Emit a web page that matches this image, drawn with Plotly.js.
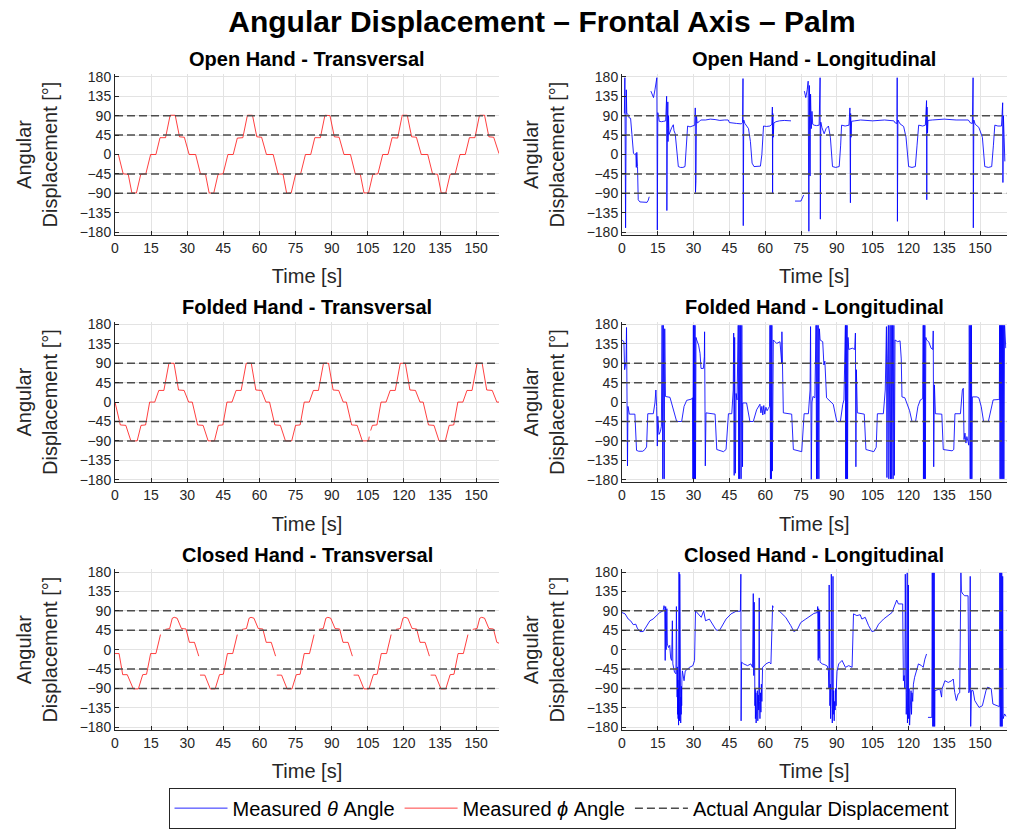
<!DOCTYPE html>
<html>
<head>
<meta charset="utf-8">
<script src="https://cdn.plot.ly/plotly-3.0.1.min.js"></script>
<style>
  html, body { margin: 0; padding: 0; background: #ffffff; }
  #chart { width: 1011px; height: 829px; }
</style>
</head>
<body>
<div id="chart"></div>
<script>
// ---------------- DATA ----------------
const mainTitle = "Angular Displacement – Frontal Axis – Palm";
const panelTitles = [
  "Open Hand - Transversal", "Open Hand - Longitudinal",
  "Folded Hand - Transversal", "Folded Hand - Longitudinal",
  "Closed Hand - Transversal", "Closed Hand - Longitudinal"
];
const xTickVals = [0, 15, 30, 45, 60, 75, 90, 105, 120, 135, 150];
const yTickVals = [-180, -135, -90, -45, 0, 45, 90, 135, 180];
const refLevels = [90, 45, -45, -90];
const seriesNames = ["Measured <i>θ</i> Angle", "Measured <i>ϕ</i> Angle", "Actual Angular Displacement"];

// Open Hand - Transversal (phi)
const tOpenTrans = [0,1.4,3.4,5.5,7.0,8.9,10.7,12.8,14.8,17.0,18.7,21.0,22.9,25.0,26.8,28.8,30.8,
  33.5,35.5,37.6,39.1,41.0,42.8,44.9,46.9,49.1,50.8,53.1,55.0,57.1,58.9,60.9,62.9,
  65.7,67.7,69.8,71.3,73.2,75.0,77.1,79.1,81.3,83.0,85.3,87.2,89.3,91.1,93.1,95.1,
  97.8,99.8,101.9,103.4,105.3,107.1,109.2,111.2,113.4,115.1,117.4,119.3,121.4,123.2,125.2,127.2,
  129.9,131.9,134.0,135.5,137.4,139.2,141.3,143.3,145.5,147.2,149.5,151.4,153.5,155.3,157.3,159.5];
const vOpenTrans = [0,0,-45,-46,-89,-89,-46,-45,0,0,39,39,91,91,41,40,0,
  0,-45,-46,-89,-90,-46,-45,0,0,38,39,91,91,41,40,0,
  0,-45,-46,-90,-89,-46,-45,0,0,39,39,91,90,41,40,0,
  0,-45,-46,-89,-89,-46,-45,0,0,39,38,91,91,41,40,0,
  0,-45,-46,-89,-89,-46,-45,0,0,39,39,91,91,41,40,2];

// Folded Hand - Transversal (phi)
const tFoldTrans = [0,2.2,4.5,6.6,9.2,10.8,12.7,14.4,16.5,18.2,20.3,22.4,24.5,26.4,28.7,30.6,
  32.1,34.3,36.6,38.7,41.3,42.9,44.8,46.5,48.6,50.3,52.4,54.5,56.6,58.5,60.8,62.7,
  64.2,66.4,68.7,70.8,73.4,75.0,76.9,78.6,80.7,82.4,84.5,86.6,88.7,90.6,92.9,94.8,
  96.1,98.3,100.6,102.7,105.3,105.6,null,106.2,106.9,108.8,110.5,112.6,114.3,116.4,118.5,120.6,122.5,124.8,126.7,
  128.0,130.2,132.5,134.6,137.2,138.8,140.7,142.4,144.5,146.2,148.3,150.4,152.5,154.4,156.7,158.6,159.5];
const vFoldTrans = [0,-53,-54,-90,-90,-54,-53,0,0,27,27,90,90,28,27,0,
  0,-53,-54,-90,-90,-54,-53,0,0,27,27,90,90,28,27,0,
  0,-53,-54,-90,-90,-54,-53,0,0,27,27,90,90,28,27,0,
  0,-53,-54,-90,-90,-80,null,-66,-54,-53,0,0,27,27,90,90,28,27,0,
  0,-53,-54,-90,-90,-54,-53,0,0,27,27,90,90,28,27,0,0];

// Closed Hand - Transversal (phi)
const tClosedTrans = [0,1.7,3.2,5.1,7.6,9.7,11.5,13.1,14.8,17.0,18.9,null,
  20.9,22.7,23.8,24.6,25.8,27.6,29.5,30.9,33.0,34.8,null,
  35.3,37.3,39.6,41.6,43.4,45.0,46.7,48.9,50.8,null,
  52.8,54.6,55.7,56.5,57.7,59.5,61.4,62.8,64.9,66.7,null,
  67.2,69.2,71.5,73.5,75.3,76.9,78.6,80.8,82.7,null,
  84.7,86.5,87.6,88.4,89.6,91.4,93.3,94.7,96.8,98.6,null,
  99.1,101.1,103.4,105.5,107.3,108.9,110.6,112.8,114.7,null,
  116.7,118.5,119.6,120.4,121.6,123.4,125.3,126.7,128.8,130.6,null,
  131.1,133.1,135.4,137.4,139.2,140.8,142.5,144.7,146.6,null,
  148.6,150.4,151.5,152.3,153.5,155.3,157.2,158.6,159.5];
const vClosedTrans = [-9,-9,-58,-58,-91,-91,-58,-57,-9,-9,35,null,
  47,49,73,75,73,49,48,17,17,-15,null,
  -59,-59,-91,-91,-58,-57,-9,-9,35,null,
  47,49,73,75,73,49,48,17,17,-15,null,
  -59,-59,-91,-91,-58,-57,-9,-9,35,null,
  47,49,73,75,73,49,48,17,17,-15,null,
  -59,-59,-91,-91,-58,-57,-9,-9,35,null,
  47,49,73,75,73,49,48,17,17,-15,null,
  -59,-59,-91,-91,-58,-57,-9,-9,35,null,
  47,49,73,75,73,49,48,17,15];

// Open Hand - Longitudinal (theta)
const tOpenLong = [1.0,1.2,1.5,1.8,2.0,2.6,3.0,3.6,4.2,4.8,5.3,5.8,6.0,6.2,6.5,6.8,7.5,9.0,10.5,11.0,11.4,null,
  12.1,12.6,13.2,13.8,14.3,14.6,14.8,15.0,15.3,15.6,16.5,17.5,18.3,18.7,18.8,18.9,19.0,19.2,19.3,19.5,19.7,20.2,20.8,21.5,21.8,22.3,23.0,23.6,24.5,25.5,26.4,27.0,27.5,28.5,29.5,30.5,30.7,30.8,30.9,31.0,31.2,31.5,32.3,33.0,35.0,37.0,39.0,41.0,43.0,44.5,45.0,46.0,48.0,50.0,50.5,50.7,50.8,51.0,51.5,52.0,53.0,53.8,54.5,55.3,57.0,58.0,58.6,59.3,60.5,62.0,62.8,63.0,63.1,63.2,63.4,63.6,64.5,66.0,68.0,70.8,null,
  72.5,75.0,76.1,null,
  76.4,77.0,77.6,78.0,78.3,78.5,78.8,79.0,79.3,79.6,79.9,80.5,81.5,82.6,83.0,83.1,83.3,83.8,84.7,85.5,86.5,87.3,88.2,89.5,91.0,91.6,92.0,93.5,95.1,95.5,95.7,95.8,96.0,96.2,97.5,100.0,105.0,110.0,113.9,114.5,115.2,115.3,115.4,115.6,116.5,118.0,119.0,120.1,121.5,122.9,123.6,124.3,126.0,127.1,127.6,127.7,127.8,128.0,128.2,130.0,135.0,140.0,145.1,146.0,146.8,147.1,147.2,147.4,148.0,149.5,151.0,152.0,153.5,154.9,155.6,156.2,157.5,159.0,159.5,159.6,159.8,160.1,160.4];
const vOpenLong = [95,178,-170,150,96,92,85,84,40,3,0,2,-30,5,-28,-105,-110,-110,-111,-106,-98,null,
  147,140,132,150,172,178,-175,97,90,77,76,77,78,135,-130,100,60,122,30,90,46,55,62,69,55,48,5,-28,-30,-30,-28,20,66,64,66,68,108,-88,100,-60,90,73,76,80,80,82,81,79,80,80,74,73,72,71,74,176,-165,80,72,68,60,30,-20,-28,-28,-27,0,66,65,66,70,110,-90,95,40,73,76,78,79,78,null,
  -108,-108,-94,null,
  147,132,150,170,-178,160,-50,140,60,100,70,68,67,68,178,-150,75,62,48,60,66,40,-28,-30,-28,20,68,66,68,108,-112,95,40,77,78,80,78,80,78,73,72,178,-155,80,71,65,40,-28,-30,-28,20,68,66,68,125,-105,110,50,79,80,82,80,80,73,72,178,-170,80,70,63,40,-28,-30,-28,20,68,66,66,120,-65,90,40,-16];

// Folded Hand - Longitudinal (theta)
const tFoldLong = [0,0.8,1.1,1.4,1.7,1.9,2.1,2.3,2.5,2.8,3.1,5.4,6.1,7.0,8.7,9.6,10.3,10.8,13.1,13.8,14.2,14.5,14.8,15.0,15.5,16.1,16.5,16.8,16.9,17.0,17.1,17.3,17.4,17.6,17.7,17.9,18.1,18.2,20.1,20.8,21.8,22.9,25.0,26.0,27.1,29.2,29.5,29.6,29.7,29.9,30.0,30.2,30.4,30.6,30.8,31.0,
  31.3,32.1,32.7,33.1,34.1,34.5,34.6,34.9,35.2,39.0,39.7,42.5,43.6,44.6,46.0,46.6,46.8,47.0,47.2,47.5,47.8,48.2,48.7,48.9,49.1,49.3,49.6,49.9,50.2,50.5,50.6,52.2,53.6,55.0,56.4,57.8,58.2,58.6,59.0,59.4,59.8,60.3,60.8,61.3,61.8,62.0,62.2,62.4,62.6,62.8,63.0,
  63.4,64.8,66.2,66.9,67.0,67.2,67.6,71.1,71.8,75.3,76.3,78.1,78.8,79.0,79.3,79.6,80.0,80.8,81.3,81.5,81.7,82.0,82.2,82.5,82.7,83.0,84.1,84.6,85.0,85.7,87.0,88.5,90.0,91.5,92.5,93.0,93.6,93.7,93.9,94.1,94.3,94.5,94.7,
  95.0,96.5,97.5,97.8,98.0,98.2,98.6,101.5,102.2,105.5,106.5,107.0,109.5,110.3,110.8,111.0,111.3,111.6,111.8,112.0,112.3,112.5,112.8,113.0,113.3,113.6,113.9,114.1,114.4,115.5,116.5,117.0,117.3,118.5,119.5,120.5,121.5,123.0,124.0,125.0,126.0,126.2,126.3,126.5,126.7,126.9,127.1,127.3,
  127.6,128.5,129.5,130.2,130.4,130.6,130.9,131.3,134.0,134.6,138.3,139.0,139.5,141.8,142.6,143.0,143.3,143.7,144.1,144.5,144.9,145.3,145.5,145.6,145.8,145.9,146.1,146.2,146.4,146.6,146.8,148.7,149.5,150.5,151.5,153.5,154.5,155.5,157.8,158.1,158.2,158.4,158.6,158.8,159.0,159.2,159.4,159.6,159.8,160.0,160.3,160.8];
const vFoldLong = [144,140,75,86,94,173,-2,-148,-10,-25,-28,-28,-112,-114,-114,-110,-104,-27,-27,-2,28,-10,-102,-33,-75,-68,-56,178,-178,178,-178,178,-178,178,-178,170,15,13,11,-2,-25,-45,-45,-10,4,7,10,178,-178,178,-178,178,-178,178,-178,150,
  144,132,113,78,78,105,163,-148,-25,-28,-110,-115,-110,-27,-27,28,160,-170,150,-165,20,5,178,-178,178,-178,178,-178,178,-150,-2,-2,-45,-45,-18,-5,-25,-10,-30,-8,-28,-12,-20,-15,-10,178,-178,178,-178,178,-160,
  144,136,140,90,163,82,-25,-28,-110,-115,-27,-27,28,175,-179,0,13,10,178,-178,178,-178,178,-178,170,144,140,86,95,10,2,-5,-45,-45,-5,5,178,-178,178,-178,178,-178,150,
  122,125,122,160,-150,75,-25,-28,-110,-115,-105,-27,-27,28,175,-175,100,178,-178,100,178,-178,178,-178,178,-178,178,-170,144,140,142,100,12,10,-5,-20,-45,-45,-10,5,8,178,-178,178,-178,178,-178,150,
  144,140,125,122,165,-150,40,-27,-28,-110,-113,-110,-27,-27,28,32,-87,-72,-95,-80,-92,-100,178,-178,178,-178,178,-178,178,-178,12,12,10,-10,-45,-45,-20,5,6,5,178,-178,178,-178,178,-178,178,-178,178,-178,178,125,121];

// Closed Hand - Longitudinal (theta)
const tClosedLong = [0,1.3,2.6,3.6,4.7,5.8,6.4,7.5,8.9,10.3,11.7,13.0,14.4,15.8,17.2,17.6,17.9,18.1,18.3,18.5,18.8,19.0,19.5,20.0,20.4,20.8,21.1,21.3,22.0,22.6,
  22.8,22.9,23.0,23.1,23.2,23.3,23.4,23.5,23.6,23.7,23.8,23.9,24.0,24.1,24.2,24.3,24.4,24.5,24.6,24.7,24.8,24.9,25.0,25.1,25.3,
  26.0,26.5,27.5,28.3,29.7,30.4,30.8,31.8,33.2,34.2,35.0,36.6,38.0,39.4,40.8,42.2,43.6,45.7,47.8,49.6,49.8,49.9,50.1,51.0,52.6,54.0,54.7,55.0,55.2,55.4,55.5,
  55.7,55.8,55.9,56.1,56.2,56.4,56.5,56.7,56.9,57.1,57.3,57.5,57.6,57.8,58.0,58.2,58.4,58.6,58.9,60.3,61.7,62.4,63.1,63.4,null,
  65.8,68.6,70.7,72.0,73.4,74.9,77.0,79.0,80.4,81.8,82.0,82.2,82.4,82.6,82.8,83.0,83.9,85.0,86.0,86.5,
  86.7,86.8,86.9,87.0,87.1,87.3,87.4,87.6,87.7,87.8,88.0,88.1,88.3,88.4,88.5,88.7,88.9,89.1,89.3,89.5,89.7,89.9,90.1,
  90.8,92.2,93.6,95.0,96.4,97.0,98.4,99.8,100.5,101.9,103.3,104.7,106.1,107.5,109.6,111.7,113.1,115.1,115.8,117.6,117.9,
  118.2,118.5,118.7,118.8,119.0,119.1,119.3,119.5,119.6,119.8,120.0,120.1,120.3,120.5,120.7,120.9,121.1,121.3,121.5,121.8,122.1,
  122.6,123.3,124.2,125.5,126.2,126.9,127.6,null,
  128.2,129.8,130.0,130.2,130.4,130.6,130.8,131.0,131.1,133.2,133.9,134.1,135.3,136.7,138.1,138.8,139.4,140.1,140.8,141.5,142.0,142.2,142.8,143.6,145.0,145.3,145.6,145.9,146.1,146.4,147.1,147.8,149.6,151.0,152.5,153.2,154.7,155.4,157.5,158.1,158.3,158.5,158.7,158.9,159.1,159.3,159.5,159.7,160.3,161.0];
const vClosedLong = [86,83,71,67,58,59,50,42,42,56,67,71,79,86,90,102,95,-25,100,0,95,13,5,10,-20,-25,67,-33,-52,-56,
  100,-60,95,-110,-40,-150,-70,-160,-90,-175,-100,180,-120,-165,175,-140,-100,160,-170,-110,-150,-85,-130,-70,-49,
  -72,-49,-45,-41,-37,-25,90,83,75,90,67,71,59,46,44,56,71,83,89,89,175,-165,-29,-33,-37,-33,-41,130,-60,110,-100,
  -130,-90,-160,-100,-170,-110,-150,-95,-165,-105,-140,120,-120,-160,-100,-145,-80,-120,-41,-33,-29,-33,102,98,null,
  90,75,56,42,46,63,71,79,84,86,100,-25,95,-20,90,-29,-33,-35,-38,-50,
  -90,150,-110,140,-130,-80,-160,-100,175,-140,-90,-170,-110,170,-150,-95,-165,-120,-140,-90,-130,-75,-50,
  -33,-25,-41,-37,-41,83,79,81,71,75,56,42,44,59,71,79,86,115,106,106,-72,
  -60,-90,175,-120,170,-150,-100,178,-170,-110,150,-160,-90,-175,-120,-140,-95,-150,-100,-120,-80,
  -64,-50,-33,-37,-41,-22,-10,null,
  -157,-157,178,-178,178,-178,178,-178,-95,-91,-110,-91,-72,-76,-72,-68,-99,-118,-103,-100,178,135,129,125,125,-100,-95,170,-178,-95,-95,-118,-134,-130,-95,-87,-91,-126,-130,-132,178,-178,178,-178,178,-178,170,-160,-149,-155];

// ---------------- CHART ----------------
const FONT = "Liberation Sans, Arial, Helvetica, sans-serif";
const INK = "#262626";
const BLUE = "rgba(0,0,255,0.85)";
const RED = "rgba(255,0,0,0.75)";
const DASH = "#4d4d4d";

const W = 1011, H = 829;
const colX = [[115, 499], [622, 1006.5]];
const rowY = [[75, 237], [325, 487], [575, 737]];
const xMax = [159.5, 161.1];
const yRange = [-186, 186];

const layout = {
  width: W, height: H,
  margin: {l: 0, r: 0, t: 0, b: 0},
  paper_bgcolor: "#ffffff",
  plot_bgcolor: "#ffffff",
  font: {family: FONT, color: INK, size: 14},
  showlegend: true,
  title: {
    text: "<b>" + mainTitle + "</b>",
    font: {family: FONT, size: 30, color: "#000000"},
    x: 542 / W, xanchor: "center", xref: "paper",
    y: 1 - 21 / H, yanchor: "middle", yref: "container"
  },
  legend: {
    orientation: "h",
    x: 562 / W, xanchor: "center",
    y: 1 - 816 / H, yanchor: "middle",
    bordercolor: INK, borderwidth: 1, bgcolor: "#ffffff",
    font: {family: FONT, size: 20, color: "#000000"},
    itemwidth: 53, tracegroupgap: 0,
    traceorder: "normal"
  },
  annotations: []
};

for (let r = 0; r < 3; r++) {
  for (let c = 0; c < 2; c++) {
    const idx = r * 2 + c + 1;
    const xa = idx === 1 ? "xaxis" : "xaxis" + idx;
    const ya = idx === 1 ? "yaxis" : "yaxis" + idx;
    layout[xa] = {
      domain: [colX[c][0] / W, colX[c][1] / W],
      anchor: idx === 1 ? "y" : "y" + idx,
      range: [0, xMax[c]],
      tickmode: "array", tickvals: xTickVals,
      ticks: "inside", ticklen: 4, tickwidth: 1, tickcolor: INK,
      showline: true, linecolor: INK, linewidth: 1, mirror: false,
      showgrid: true, gridcolor: "#e3e3e3", gridwidth: 1,
      zeroline: false,
      tickfont: {family: FONT, size: 14, color: INK},
      title: {text: "Time [s]", font: {family: FONT, size: 20, color: INK}, standoff: 14},
      automargin: false, fixedrange: true
    };
    layout[ya] = {
      domain: [1 - rowY[r][1] / H, 1 - rowY[r][0] / H],
      anchor: idx === 1 ? "x" : "x" + idx,
      range: yRange,
      tickmode: "array", tickvals: yTickVals,
      ticks: "inside", ticklen: 4, tickwidth: 1, tickcolor: INK,
      showline: true, linecolor: INK, linewidth: 1, mirror: false,
      showgrid: true, gridcolor: "#e3e3e3", gridwidth: 1,
      zeroline: false,
      tickfont: {family: FONT, size: 14, color: INK},
      title: {text: "Angular<br>Displacement [°]", font: {family: FONT, size: 20, color: INK}, standoff: 16},
      automargin: false, fixedrange: true
    };
    layout.annotations.push({
      xref: "paper", yref: "paper",
      x: (colX[c][0] + colX[c][1]) / 2 / W,
      y: 1 - (rowY[r][0] - 15) / H,
      xanchor: "center", yanchor: "middle",
      text: "<b>" + panelTitles[idx - 1] + "</b>",
      showarrow: false,
      font: {family: FONT, size: 20, color: "#000000"}
    });
  }
}

function ax(idx) { return idx === 1 ? ["x", "y"] : ["x" + idx, "y" + idx]; }

const traces = [];
const blueSets = [[tOpenLong, vOpenLong, 2], [tFoldLong, vFoldLong, 4], [tClosedLong, vClosedLong, 6]];
blueSets.forEach((s, i) => {
  const a = ax(s[2]);
  traces.push({
    type: "scatter", mode: "lines", x: s[0], y: s[1], xaxis: a[0], yaxis: a[1],
    line: {color: BLUE, width: 1}, name: seriesNames[0],
    legendgroup: "theta", showlegend: i === 0, connectgaps: false, hoverinfo: "skip"
  });
});
const redSets = [[tOpenTrans, vOpenTrans, 1], [tFoldTrans, vFoldTrans, 3], [tClosedTrans, vClosedTrans, 5]];
redSets.forEach((s, i) => {
  const a = ax(s[2]);
  traces.push({
    type: "scatter", mode: "lines", x: s[0], y: s[1], xaxis: a[0], yaxis: a[1],
    line: {color: RED, width: 1}, name: seriesNames[1],
    legendgroup: "phi", showlegend: i === 0, connectgaps: false, hoverinfo: "skip"
  });
});
for (let idx = 1; idx <= 6; idx++) {
  const a = ax(idx);
  const xm = xMax[(idx - 1) % 2];
  const xs = [], ys = [];
  refLevels.forEach(L => { xs.push(0, xm, null); ys.push(L, L, null); });
  traces.push({
    type: "scatter", mode: "lines", x: xs, y: ys, xaxis: a[0], yaxis: a[1],
    line: {color: DASH, width: 1.5, dash: "8px,4px"}, name: seriesNames[2],
    legendgroup: "ref", showlegend: idx === 1, hoverinfo: "skip"
  });
}

Plotly.newPlot("chart", traces, layout, {staticPlot: true, displayModeBar: false});
</script>
</body>
</html>
